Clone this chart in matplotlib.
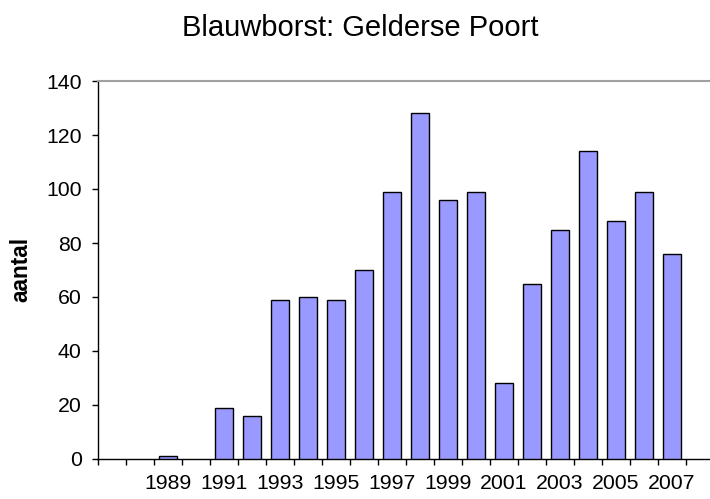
import numpy as np
import matplotlib.pyplot as plt

plt.rcParams['font.family'] = ['Liberation Sans', 'DejaVu Sans']

years = list(range(1987, 2008))
aantal = [0, 0, 1, 0, 19, 16, 59, 60, 59, 70, 99, 128, 96, 99, 28, 65, 85, 114, 88, 99, 76]
labelled_years = list(range(1989, 2008, 2))
title = "Blauwborst: Gelderse Poort"
ylabel = "aantal"

W, H = 710, 499
fig = plt.figure(figsize=(W / 100, H / 100), dpi=100)

# plot area: left edge at x=98, bottom at y=459, top at y=81; cut off on the right
ax = fig.add_axes([98 / W, (H - 459) / H, (W - 98) / W, 378 / H])

x = np.arange(len(years))
vals = np.array(aantal)
shown = vals > 0
ax.bar(x[shown], vals[shown], width=0.67, color='#9999ff', edgecolor='black',
       linewidth=1.0, zorder=3)

ax.set_ylim(0, 140)
ax.set_yticks(range(0, 141, 20))
slot = 28.0  # pixels per category
ax.set_xlim(-0.5, -0.5 + (W - 98) / slot)

# tick marks between categories, labels for odd years only
ax.set_xticks(np.arange(-0.5, len(years)), minor=True)
ax.set_xticks([years.index(y) for y in labelled_years])
ax.set_xticklabels([str(y) for y in labelled_years])

ax.tick_params(axis='x', which='major', length=0, pad=11, labelsize=15.3)
ax.tick_params(axis='x', which='minor', length=4.3, width=1.0, direction='out')
ax.tick_params(axis='y', length=4.3, width=1.0, direction='out', pad=7.5, labelsize=15.3)

ax.spines['right'].set_visible(False)
ax.spines['top'].set_color('#a0a0a0')
ax.spines['top'].set_linewidth(1.5)
ax.spines['left'].set_color('black')
ax.spines['bottom'].set_color('black')
ax.spines['left'].set_linewidth(1.0)
ax.spines['bottom'].set_linewidth(1.0)

fig.text(360 / W, 1 - 36 / H, title, ha='center', va='baseline', fontsize=21)
fig.text(21 / W, 1 - 269 / H, ylabel, ha='center', va='center', rotation=90,
         fontsize=16.3, fontweight='bold')

fig.savefig('out.png', dpi=100)
